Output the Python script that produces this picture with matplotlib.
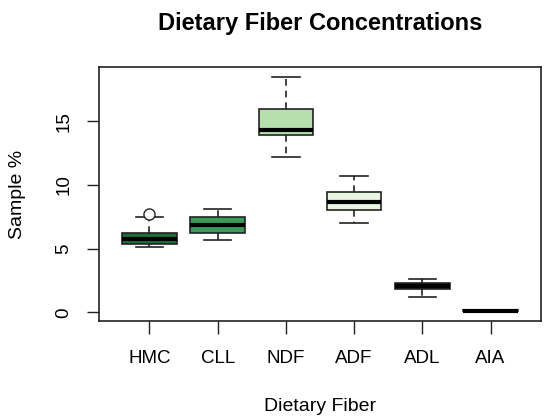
import matplotlib
matplotlib.use("Agg")
import matplotlib.pyplot as plt

plt.rcParams["font.family"] = ["Liberation Sans", "DejaVu Sans"]

# 박스 통계
fibers = ["HMC", "CLL", "NDF", "ADF", "ADL", "AIA"]
q1 = [5.34, 6.25, 13.90, 8.06, 1.81, 0.10]
med = [5.76, 6.86, 14.34, 8.66, 2.07, 0.13]
q3 = [6.22, 7.51, 15.97, 9.45, 2.33, 0.16]
whislo = [5.10, 5.68, 12.20, 7.04, 1.20, 0.08]
whishi = [7.49, 8.09, 18.51, 10.71, 2.62, 0.18]
outliers = [[7.75], [], [], [], [], []]
fills = ["#1f6e38", "#3a9c58", "#b5e0ad", "#e8f5e2", "#0d2e17", "#000000"]

stats = [dict(label=f, q1=a, med=m, q3=b, whislo=lo, whishi=hi, fliers=o)
         for f, a, m, b, lo, hi, o in zip(fibers, q1, med, q3, whislo, whishi, outliers)]

fig = plt.figure(figsize=(5.5, 4.2), dpi=100)
ax = fig.add_axes([0.18, 0.2357, 0.8036, 0.6048])

bp = ax.bxp(stats, widths=0.8, capwidths=0.4, patch_artist=True,
            boxprops=dict(linewidth=1.2, edgecolor="#222222"),
            medianprops=dict(color="black", linewidth=3.0, solid_capstyle="butt"),
            whiskerprops=dict(color="#222222", linewidth=1.2, linestyle=(0, (4, 3))),
            capprops=dict(color="#222222", linewidth=1.2),
            flierprops=dict(marker="o", markersize=8, markerfacecolor="white",
                            markeredgecolor="#222222", markeredgewidth=1.0))
for patch, c in zip(bp["boxes"], fills):
    patch.set_facecolor(c)

ax.set_xlim(0.26, 6.74)
ax.set_ylim(-0.68, 19.27)
ax.set_yticks([0, 5, 10, 15])
ax.tick_params(axis="both", direction="out", length=9, width=1.0, color="#222222",
               labelsize=13.5)
ax.tick_params(axis="x", pad=12)
ax.tick_params(axis="y", pad=10)
for lab in ax.get_yticklabels():
    lab.set_rotation(90)
    lab.set_va("center")
for s in ax.spines.values():
    s.set_linewidth(1.2)
    s.set_color("#222222")

ax.set_xlabel("Dietary Fiber", fontsize=14, labelpad=22)
ax.set_ylabel("Sample %", fontsize=14, labelpad=21)
fig.suptitle("Dietary Fiber Concentrations", fontsize=17, fontweight="bold",
             x=0.582, y=0.945, va="center")

fig.savefig("out.png", dpi=100)
